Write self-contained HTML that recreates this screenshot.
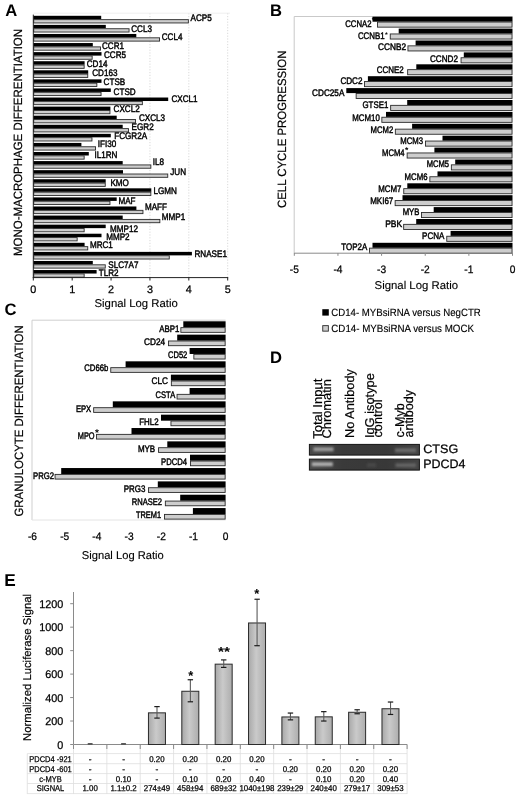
<!DOCTYPE html>
<html><head><meta charset="utf-8"><style>
html,body{margin:0;padding:0;background:#fff;}
svg{display:block;will-change:transform;}
text{font-family:"Liberation Sans",sans-serif;text-rendering:geometricPrecision;}
</style></head><body>
<svg width="520" height="795" viewBox="0 0 520 795" font-family="Liberation Sans, sans-serif">
<rect x="0" y="0" width="520" height="795" fill="#fff"/>
<line x1="149.94" y1="13.2" x2="149.94" y2="277" stroke="#cfcfcf" stroke-width="0.8" stroke-dasharray="1.2,1.6"/>
<line x1="188.82" y1="13.2" x2="188.82" y2="277" stroke="#cfcfcf" stroke-width="0.8" stroke-dasharray="1.2,1.6"/>
<line x1="227.7" y1="13.2" x2="227.7" y2="277" stroke="#cfcfcf" stroke-width="0.8" stroke-dasharray="1.2,1.6"/>
<rect x="33.3" y="15.8" width="67.9" height="3.5" fill="#000"/>
<rect x="33.75" y="19.65" width="154.6" height="3.3" fill="#cdcdcd" stroke="#2a2a2a" stroke-width="0.9"/>
<text x="190.5" y="20.91" font-size="9.5" textLength="21.16" lengthAdjust="spacingAndGlyphs" stroke="#000" stroke-width="0.45">ACP5</text>
<rect x="33.3" y="24.88" width="72.5" height="3.5" fill="#000"/>
<rect x="33.75" y="28.73" width="95.3" height="3.3" fill="#cdcdcd" stroke="#2a2a2a" stroke-width="0.9"/>
<text x="131.25" y="31.61" font-size="9.5" textLength="20.71" lengthAdjust="spacingAndGlyphs" stroke="#000" stroke-width="0.45">CCL3</text>
<rect x="33.3" y="33.96" width="103" height="3.5" fill="#000"/>
<rect x="33.75" y="37.81" width="125.8" height="3.3" fill="#cdcdcd" stroke="#2a2a2a" stroke-width="0.9"/>
<text x="161.75" y="40.41" font-size="9.5" textLength="20.71" lengthAdjust="spacingAndGlyphs" stroke="#000" stroke-width="0.45">CCL4</text>
<rect x="33.3" y="43.04" width="59.5" height="3.5" fill="#000"/>
<rect x="33.75" y="46.89" width="66.7" height="3.3" fill="#cdcdcd" stroke="#2a2a2a" stroke-width="0.9"/>
<text x="102" y="49.31" font-size="9.5" textLength="22.05" lengthAdjust="spacingAndGlyphs" stroke="#000" stroke-width="0.45">CCR1</text>
<rect x="33.3" y="52.12" width="68.2" height="3.5" fill="#000"/>
<rect x="33.75" y="55.97" width="58.4" height="3.3" fill="#cdcdcd" stroke="#2a2a2a" stroke-width="0.9"/>
<text x="104" y="58.31" font-size="9.5" textLength="22.05" lengthAdjust="spacingAndGlyphs" stroke="#000" stroke-width="0.45">CCR5</text>
<rect x="33.3" y="61.2" width="51.3" height="3.5" fill="#000"/>
<rect x="33.75" y="65.05" width="50.4" height="3.3" fill="#cdcdcd" stroke="#2a2a2a" stroke-width="0.9"/>
<text x="86.7" y="67.31" font-size="9.5" textLength="20.71" lengthAdjust="spacingAndGlyphs" stroke="#000" stroke-width="0.45">CD14</text>
<rect x="33.3" y="70.28" width="54.9" height="3.5" fill="#000"/>
<rect x="33.75" y="74.13" width="54" height="3.3" fill="#cdcdcd" stroke="#2a2a2a" stroke-width="0.9"/>
<text x="92.2" y="76.31" font-size="9.5" textLength="25.21" lengthAdjust="spacingAndGlyphs" stroke="#000" stroke-width="0.45">CD163</text>
<rect x="33.3" y="79.36" width="68.2" height="3.5" fill="#000"/>
<rect x="33.75" y="83.21" width="63.1" height="3.3" fill="#cdcdcd" stroke="#2a2a2a" stroke-width="0.9"/>
<text x="103.6" y="85.31" font-size="9.5" textLength="21.6" lengthAdjust="spacingAndGlyphs" stroke="#000" stroke-width="0.45">CTSB</text>
<rect x="33.3" y="88.44" width="77.5" height="3.5" fill="#000"/>
<rect x="33.75" y="92.29" width="67.3" height="3.3" fill="#cdcdcd" stroke="#2a2a2a" stroke-width="0.9"/>
<text x="113.6" y="94.51" font-size="9.5" textLength="22.05" lengthAdjust="spacingAndGlyphs" stroke="#000" stroke-width="0.45">CTSD</text>
<rect x="33.3" y="97.52" width="134.9" height="3.5" fill="#000"/>
<rect x="33.75" y="101.37" width="108.6" height="3.3" fill="#cdcdcd" stroke="#2a2a2a" stroke-width="0.9"/>
<text x="171.4" y="102.41" font-size="9.5" textLength="26.11" lengthAdjust="spacingAndGlyphs" stroke="#000" stroke-width="0.45">CXCL1</text>
<rect x="33.3" y="106.6" width="77.1" height="3.5" fill="#000"/>
<rect x="33.75" y="110.45" width="76.2" height="3.3" fill="#cdcdcd" stroke="#2a2a2a" stroke-width="0.9"/>
<text x="113.6" y="112.21" font-size="9.5" textLength="26.11" lengthAdjust="spacingAndGlyphs" stroke="#000" stroke-width="0.45">CXCL2</text>
<rect x="33.3" y="115.68" width="83.4" height="3.5" fill="#000"/>
<rect x="33.75" y="119.53" width="101.7" height="3.3" fill="#cdcdcd" stroke="#2a2a2a" stroke-width="0.9"/>
<text x="139" y="120.81" font-size="9.5" textLength="26.11" lengthAdjust="spacingAndGlyphs" stroke="#000" stroke-width="0.45">CXCL3</text>
<rect x="33.3" y="124.76" width="89.4" height="3.5" fill="#000"/>
<rect x="33.75" y="128.61" width="94.7" height="3.3" fill="#cdcdcd" stroke="#2a2a2a" stroke-width="0.9"/>
<text x="131.6" y="130.31" font-size="9.5" textLength="22.06" lengthAdjust="spacingAndGlyphs" stroke="#000" stroke-width="0.45">EGR2</text>
<rect x="33.3" y="133.84" width="77.5" height="3.5" fill="#000"/>
<rect x="33.75" y="137.69" width="58.2" height="3.3" fill="#cdcdcd" stroke="#2a2a2a" stroke-width="0.9"/>
<text x="114.2" y="139.41" font-size="9.5" textLength="32.85" lengthAdjust="spacingAndGlyphs" stroke="#000" stroke-width="0.45">FCGR2A</text>
<rect x="33.3" y="142.92" width="48.1" height="3.5" fill="#000"/>
<rect x="33.75" y="146.77" width="61.8" height="3.3" fill="#cdcdcd" stroke="#2a2a2a" stroke-width="0.9"/>
<text x="97.7" y="147.11" font-size="9.5" textLength="18.46" lengthAdjust="spacingAndGlyphs" stroke="#000" stroke-width="0.45">IFI30</text>
<rect x="33.3" y="152" width="55.5" height="3.5" fill="#000"/>
<rect x="33.75" y="155.85" width="50.4" height="3.3" fill="#cdcdcd" stroke="#2a2a2a" stroke-width="0.9"/>
<text x="94.5" y="158.31" font-size="9.5" textLength="22.96" lengthAdjust="spacingAndGlyphs" stroke="#000" stroke-width="0.45">IL1RN</text>
<rect x="33.3" y="161.08" width="89.4" height="3.5" fill="#000"/>
<rect x="33.75" y="164.93" width="117.1" height="3.3" fill="#cdcdcd" stroke="#2a2a2a" stroke-width="0.9"/>
<text x="152.8" y="165.21" font-size="9.5" textLength="11.26" lengthAdjust="spacingAndGlyphs" stroke="#000" stroke-width="0.45">IL8</text>
<rect x="33.3" y="170.16" width="89.7" height="3.5" fill="#000"/>
<rect x="33.75" y="174.01" width="134" height="3.3" fill="#cdcdcd" stroke="#2a2a2a" stroke-width="0.9"/>
<text x="170.3" y="175.21" font-size="9.5" textLength="15.75" lengthAdjust="spacingAndGlyphs" stroke="#000" stroke-width="0.45">JUN</text>
<rect x="33.3" y="179.24" width="72.4" height="3.5" fill="#000"/>
<rect x="33.75" y="183.09" width="71.5" height="3.3" fill="#cdcdcd" stroke="#2a2a2a" stroke-width="0.9"/>
<text x="110.4" y="186.01" font-size="9.5" textLength="18.45" lengthAdjust="spacingAndGlyphs" stroke="#000" stroke-width="0.45">KMO</text>
<rect x="33.3" y="188.32" width="118" height="3.5" fill="#000"/>
<rect x="33.75" y="192.17" width="117.1" height="3.3" fill="#cdcdcd" stroke="#2a2a2a" stroke-width="0.9"/>
<text x="153.4" y="194.01" font-size="9.5" textLength="23.4" lengthAdjust="spacingAndGlyphs" stroke="#000" stroke-width="0.45">LGMN</text>
<rect x="33.3" y="197.4" width="83.4" height="3.5" fill="#000"/>
<rect x="33.75" y="201.25" width="76.2" height="3.3" fill="#cdcdcd" stroke="#2a2a2a" stroke-width="0.9"/>
<text x="118.4" y="204.41" font-size="9.5" textLength="17.1" lengthAdjust="spacingAndGlyphs" stroke="#000" stroke-width="0.45">MAF</text>
<rect x="33.3" y="206.48" width="103.1" height="3.5" fill="#000"/>
<rect x="33.75" y="210.33" width="109.2" height="3.3" fill="#cdcdcd" stroke="#2a2a2a" stroke-width="0.9"/>
<text x="144.9" y="210.21" font-size="9.5" textLength="22.04" lengthAdjust="spacingAndGlyphs" stroke="#000" stroke-width="0.45">MAFF</text>
<rect x="33.3" y="215.56" width="89.4" height="3.5" fill="#000"/>
<rect x="33.75" y="219.41" width="126.1" height="3.3" fill="#cdcdcd" stroke="#2a2a2a" stroke-width="0.9"/>
<text x="161.8" y="220.21" font-size="9.5" textLength="23.4" lengthAdjust="spacingAndGlyphs" stroke="#000" stroke-width="0.45">MMP1</text>
<rect x="33.3" y="224.64" width="72.4" height="3.5" fill="#000"/>
<rect x="33.75" y="228.49" width="50.4" height="3.3" fill="#cdcdcd" stroke="#2a2a2a" stroke-width="0.9"/>
<text x="110" y="231.51" font-size="9.5" textLength="27.91" lengthAdjust="spacingAndGlyphs" stroke="#000" stroke-width="0.45">MMP12</text>
<rect x="33.3" y="233.72" width="68.2" height="3.5" fill="#000"/>
<rect x="33.75" y="237.57" width="43.4" height="3.3" fill="#cdcdcd" stroke="#2a2a2a" stroke-width="0.9"/>
<text x="106.2" y="239.51" font-size="9.5" textLength="23.4" lengthAdjust="spacingAndGlyphs" stroke="#000" stroke-width="0.45">MMP2</text>
<rect x="33.3" y="242.8" width="51.3" height="3.5" fill="#000"/>
<rect x="33.75" y="246.65" width="54" height="3.3" fill="#cdcdcd" stroke="#2a2a2a" stroke-width="0.9"/>
<text x="89.9" y="248.01" font-size="9.5" textLength="22.95" lengthAdjust="spacingAndGlyphs" stroke="#000" stroke-width="0.45">MRC1</text>
<rect x="33.3" y="251.88" width="158.6" height="3.5" fill="#000"/>
<rect x="33.75" y="255.73" width="135.5" height="3.3" fill="#cdcdcd" stroke="#2a2a2a" stroke-width="0.9"/>
<text x="194.5" y="256.61" font-size="9.5" textLength="32.41" lengthAdjust="spacingAndGlyphs" stroke="#000" stroke-width="0.45">RNASE1</text>
<rect x="33.3" y="260.96" width="59.5" height="3.5" fill="#000"/>
<rect x="33.75" y="264.81" width="71.5" height="3.3" fill="#cdcdcd" stroke="#2a2a2a" stroke-width="0.9"/>
<text x="108.3" y="268.01" font-size="9.5" textLength="30.17" lengthAdjust="spacingAndGlyphs" stroke="#000" stroke-width="0.45">SLC7A7</text>
<rect x="33.3" y="270.04" width="63.3" height="3.5" fill="#000"/>
<rect x="33.75" y="273.89" width="50.4" height="3.3" fill="#cdcdcd" stroke="#2a2a2a" stroke-width="0.9"/>
<text x="98.8" y="275.81" font-size="9.5" textLength="19.81" lengthAdjust="spacingAndGlyphs" stroke="#000" stroke-width="0.45">TLR2</text>
<line x1="33.3" y1="14.6" x2="33.3" y2="278.1" stroke="#222" stroke-width="1"/>
<line x1="33.3" y1="13.2" x2="230" y2="13.2" stroke="#ececec" stroke-width="0.8"/>
<line x1="32.8" y1="277.6" x2="228.2" y2="277.6" stroke="#222" stroke-width="1"/>
<line x1="33.3" y1="277.5" x2="33.3" y2="280.5" stroke="#222" stroke-width="1"/>
<text x="33.3" y="292.5" font-size="10.8" text-anchor="middle" stroke="#000" stroke-width="0.25">0</text>
<line x1="72.18" y1="277.5" x2="72.18" y2="280.5" stroke="#222" stroke-width="1"/>
<text x="72.18" y="292.5" font-size="10.8" text-anchor="middle" stroke="#000" stroke-width="0.25">1</text>
<line x1="111.06" y1="277.5" x2="111.06" y2="280.5" stroke="#222" stroke-width="1"/>
<text x="111.06" y="292.5" font-size="10.8" text-anchor="middle" stroke="#000" stroke-width="0.25">2</text>
<line x1="149.94" y1="277.5" x2="149.94" y2="280.5" stroke="#222" stroke-width="1"/>
<text x="149.94" y="292.5" font-size="10.8" text-anchor="middle" stroke="#000" stroke-width="0.25">3</text>
<line x1="188.82" y1="277.5" x2="188.82" y2="280.5" stroke="#222" stroke-width="1"/>
<text x="188.82" y="292.5" font-size="10.8" text-anchor="middle" stroke="#000" stroke-width="0.25">4</text>
<line x1="227.7" y1="277.5" x2="227.7" y2="280.5" stroke="#222" stroke-width="1"/>
<text x="227.7" y="292.5" font-size="10.8" text-anchor="middle" stroke="#000" stroke-width="0.25">5</text>
<text x="94.5" y="306.7" font-size="11.3" textLength="83.3" lengthAdjust="spacingAndGlyphs" stroke="#000" stroke-width="0.12">Signal Log Ratio</text>
<text transform="translate(22.2,256) rotate(-90)" font-size="12" textLength="227" lengthAdjust="spacingAndGlyphs" stroke="#000" stroke-width="0.2">MONO-MACROPHAGE DIFFERENTIATION</text>
<text x="5.2" y="16.3" font-size="16.6" font-weight="bold">A</text>
<line x1="294.2" y1="16.5" x2="512.5" y2="16.5" stroke="#c9c9c9" stroke-width="1"/>
<line x1="294.2" y1="16.5" x2="294.2" y2="253.2" stroke="#c9c9c9" stroke-width="1"/>
<rect x="372.5" y="16.7" width="140" height="5" fill="#000"/>
<rect x="377.55" y="22.05" width="134.5" height="5.1" fill="#cdcdcd" stroke="#2a2a2a" stroke-width="0.9"/>
<text x="371.5" y="27.06" font-size="9.5" text-anchor="end" textLength="26.3" lengthAdjust="spacingAndGlyphs" stroke="#000" stroke-width="0.45">CCNA2</text>
<text x="371.67" y="22.27" font-size="7" font-weight="bold">*</text>
<rect x="398.7" y="28.6" width="113.8" height="5" fill="#000"/>
<rect x="390.25" y="33.95" width="121.8" height="5.1" fill="#cdcdcd" stroke="#2a2a2a" stroke-width="0.9"/>
<text x="384.6" y="38.56" font-size="9.5" text-anchor="end" textLength="26.7" lengthAdjust="spacingAndGlyphs" stroke="#000" stroke-width="0.45">CCNB1</text>
<text x="384.97" y="36.77" font-size="7" font-weight="bold">*</text>
<rect x="415.6" y="40.5" width="96.9" height="5" fill="#000"/>
<rect x="407.95" y="45.85" width="104.1" height="5.1" fill="#cdcdcd" stroke="#2a2a2a" stroke-width="0.9"/>
<text x="406" y="49.86" font-size="9.5" text-anchor="end" textLength="28" lengthAdjust="spacingAndGlyphs" stroke="#000" stroke-width="0.45">CCNB2</text>
<rect x="463.8" y="52.4" width="48.7" height="5" fill="#000"/>
<rect x="461.05" y="57.75" width="51" height="5.1" fill="#cdcdcd" stroke="#2a2a2a" stroke-width="0.9"/>
<text x="457.9" y="61.96" font-size="9.5" text-anchor="end" textLength="27.9" lengthAdjust="spacingAndGlyphs" stroke="#000" stroke-width="0.45">CCND2</text>
<rect x="416.3" y="64.3" width="96.2" height="5" fill="#000"/>
<rect x="407.65" y="69.65" width="104.4" height="5.1" fill="#cdcdcd" stroke="#2a2a2a" stroke-width="0.9"/>
<text x="403.7" y="73.16" font-size="9.5" text-anchor="end" textLength="27" lengthAdjust="spacingAndGlyphs" stroke="#000" stroke-width="0.45">CCNE2</text>
<rect x="367.9" y="76.2" width="144.6" height="5" fill="#000"/>
<rect x="364.55" y="81.55" width="147.5" height="5.1" fill="#cdcdcd" stroke="#2a2a2a" stroke-width="0.9"/>
<text x="362.5" y="83.86" font-size="9.5" text-anchor="end" textLength="22.1" lengthAdjust="spacingAndGlyphs" stroke="#000" stroke-width="0.45">CDC2</text>
<rect x="346.3" y="88.1" width="166.2" height="5" fill="#000"/>
<rect x="356.15" y="93.45" width="155.9" height="5.1" fill="#cdcdcd" stroke="#2a2a2a" stroke-width="0.9"/>
<text x="344.4" y="95.76" font-size="9.5" text-anchor="end" textLength="32.3" lengthAdjust="spacingAndGlyphs" stroke="#000" stroke-width="0.45">CDC25A</text>
<rect x="407.2" y="100" width="105.3" height="5" fill="#000"/>
<rect x="390.65" y="105.35" width="121.4" height="5.1" fill="#cdcdcd" stroke="#2a2a2a" stroke-width="0.9"/>
<text x="388.3" y="108.16" font-size="9.5" text-anchor="end" textLength="25.8" lengthAdjust="spacingAndGlyphs" stroke="#000" stroke-width="0.45">GTSE1</text>
<rect x="386" y="111.9" width="126.5" height="5" fill="#000"/>
<rect x="381.85" y="117.25" width="130.2" height="5.1" fill="#cdcdcd" stroke="#2a2a2a" stroke-width="0.9"/>
<text x="379.8" y="120.56" font-size="9.5" text-anchor="end" textLength="27.5" lengthAdjust="spacingAndGlyphs" stroke="#000" stroke-width="0.45">MCM10</text>
<rect x="412.1" y="123.8" width="100.4" height="5" fill="#000"/>
<rect x="395.35" y="129.15" width="116.7" height="5.1" fill="#cdcdcd" stroke="#2a2a2a" stroke-width="0.9"/>
<text x="393.2" y="132.56" font-size="9.5" text-anchor="end" textLength="22.6" lengthAdjust="spacingAndGlyphs" stroke="#000" stroke-width="0.45">MCM2</text>
<rect x="442.5" y="135.7" width="70" height="5" fill="#000"/>
<rect x="425.45" y="141.05" width="86.6" height="5.1" fill="#cdcdcd" stroke="#2a2a2a" stroke-width="0.9"/>
<text x="423.1" y="143.86" font-size="9.5" text-anchor="end" textLength="22.9" lengthAdjust="spacingAndGlyphs" stroke="#000" stroke-width="0.45">MCM3</text>
<rect x="434.4" y="147.6" width="78.1" height="5" fill="#000"/>
<rect x="407.15" y="152.95" width="104.9" height="5.1" fill="#cdcdcd" stroke="#2a2a2a" stroke-width="0.9"/>
<text x="404.6" y="155.66" font-size="9.5" text-anchor="end" textLength="22.5" lengthAdjust="spacingAndGlyphs" stroke="#000" stroke-width="0.45">MCM4</text>
<text x="405.08" y="153.03" font-size="8.5" font-weight="bold">*</text>
<rect x="455.2" y="159.5" width="57.3" height="5" fill="#000"/>
<rect x="451.35" y="164.85" width="60.7" height="5.1" fill="#cdcdcd" stroke="#2a2a2a" stroke-width="0.9"/>
<text x="449" y="167.26" font-size="9.5" text-anchor="end" textLength="22.3" lengthAdjust="spacingAndGlyphs" stroke="#000" stroke-width="0.45">MCM5</text>
<rect x="437.5" y="171.4" width="75" height="5" fill="#000"/>
<rect x="429.85" y="176.75" width="82.2" height="5.1" fill="#cdcdcd" stroke="#2a2a2a" stroke-width="0.9"/>
<text x="427.5" y="179.56" font-size="9.5" text-anchor="end" textLength="22.9" lengthAdjust="spacingAndGlyphs" stroke="#000" stroke-width="0.45">MCM6</text>
<rect x="407.3" y="183.3" width="105.2" height="5" fill="#000"/>
<rect x="403.75" y="188.65" width="108.3" height="5.1" fill="#cdcdcd" stroke="#2a2a2a" stroke-width="0.9"/>
<text x="401.4" y="191.56" font-size="9.5" text-anchor="end" textLength="23.2" lengthAdjust="spacingAndGlyphs" stroke="#000" stroke-width="0.45">MCM7</text>
<rect x="402.5" y="195.2" width="110" height="5" fill="#000"/>
<rect x="395.15" y="200.55" width="116.9" height="5.1" fill="#cdcdcd" stroke="#2a2a2a" stroke-width="0.9"/>
<text x="393.3" y="203.56" font-size="9.5" text-anchor="end" textLength="23.1" lengthAdjust="spacingAndGlyphs" stroke="#000" stroke-width="0.45">MKI67</text>
<rect x="433.7" y="207.1" width="78.8" height="5" fill="#000"/>
<rect x="421.45" y="212.45" width="90.6" height="5.1" fill="#cdcdcd" stroke="#2a2a2a" stroke-width="0.9"/>
<text x="419.4" y="215.46" font-size="9.5" text-anchor="end" textLength="16.7" lengthAdjust="spacingAndGlyphs" stroke="#000" stroke-width="0.45">MYB</text>
<rect x="416.2" y="219" width="96.3" height="5" fill="#000"/>
<rect x="403.65" y="224.35" width="108.4" height="5.1" fill="#cdcdcd" stroke="#2a2a2a" stroke-width="0.9"/>
<text x="402.2" y="227.06" font-size="9.5" text-anchor="end" textLength="17" lengthAdjust="spacingAndGlyphs" stroke="#000" stroke-width="0.45">PBK</text>
<rect x="450.6" y="230.9" width="61.9" height="5" fill="#000"/>
<rect x="446.75" y="236.25" width="65.3" height="5.1" fill="#cdcdcd" stroke="#2a2a2a" stroke-width="0.9"/>
<text x="444.4" y="239.36" font-size="9.5" text-anchor="end" textLength="22.3" lengthAdjust="spacingAndGlyphs" stroke="#000" stroke-width="0.45">PCNA</text>
<rect x="372.5" y="242.8" width="140" height="5" fill="#000"/>
<rect x="369.45" y="248.15" width="142.6" height="5.1" fill="#cdcdcd" stroke="#2a2a2a" stroke-width="0.9"/>
<text x="367.2" y="249.96" font-size="9.5" text-anchor="end" textLength="25.9" lengthAdjust="spacingAndGlyphs" stroke="#000" stroke-width="0.45">TOP2A</text>
<line x1="294.2" y1="253.2" x2="512.5" y2="253.2" stroke="#8a8a8a" stroke-width="1"/>
<line x1="294.3" y1="253" x2="294.3" y2="255.8" stroke="#8a8a8a" stroke-width="1"/>
<text x="294.3" y="273" font-size="10.8" text-anchor="middle" textLength="9.07" lengthAdjust="spacingAndGlyphs" stroke="#000" stroke-width="0.25">-5</text>
<line x1="337.94" y1="253" x2="337.94" y2="255.8" stroke="#8a8a8a" stroke-width="1"/>
<text x="337.94" y="273" font-size="10.8" text-anchor="middle" textLength="9.07" lengthAdjust="spacingAndGlyphs" stroke="#000" stroke-width="0.25">-4</text>
<line x1="381.58" y1="253" x2="381.58" y2="255.8" stroke="#8a8a8a" stroke-width="1"/>
<text x="381.58" y="273" font-size="10.8" text-anchor="middle" textLength="9.07" lengthAdjust="spacingAndGlyphs" stroke="#000" stroke-width="0.25">-3</text>
<line x1="425.22" y1="253" x2="425.22" y2="255.8" stroke="#8a8a8a" stroke-width="1"/>
<text x="425.22" y="273" font-size="10.8" text-anchor="middle" textLength="9.07" lengthAdjust="spacingAndGlyphs" stroke="#000" stroke-width="0.25">-2</text>
<line x1="468.86" y1="253" x2="468.86" y2="255.8" stroke="#8a8a8a" stroke-width="1"/>
<text x="468.86" y="273" font-size="10.8" text-anchor="middle" textLength="9.07" lengthAdjust="spacingAndGlyphs" stroke="#000" stroke-width="0.25">-1</text>
<line x1="512.5" y1="253" x2="512.5" y2="255.8" stroke="#8a8a8a" stroke-width="1"/>
<text x="512.5" y="273" font-size="10.8" text-anchor="middle" textLength="5.67" lengthAdjust="spacingAndGlyphs" stroke="#000" stroke-width="0.25">0</text>
<text x="374.6" y="288.5" font-size="11.3" textLength="83.4" lengthAdjust="spacingAndGlyphs" stroke="#000" stroke-width="0.12">Signal Log Ratio</text>
<text transform="translate(286.1,208) rotate(-90)" font-size="12" textLength="157.4" lengthAdjust="spacingAndGlyphs" stroke="#000" stroke-width="0.2">CELL CYCLE PROGRESSION</text>
<text x="270.1" y="16.4" font-size="16.6" font-weight="bold">B</text>
<rect x="322.3" y="309.2" width="6.5" height="6.4" fill="#000"/>
<rect x="322.75" y="325.65" width="5.6" height="5.5" fill="#cdcdcd" stroke="#2a2a2a" stroke-width="0.9"/>
<text x="331.3" y="316.2" font-size="10.5" textLength="149.5" lengthAdjust="spacingAndGlyphs" stroke="#000" stroke-width="0.15">CD14- MYBsiRNA versus NegCTR</text>
<text x="331.3" y="332" font-size="10.5" textLength="142.7" lengthAdjust="spacingAndGlyphs" stroke="#000" stroke-width="0.15">CD14- MYBsiRNA versus MOCK</text>
<line x1="32" y1="320.2" x2="225.6" y2="320.2" stroke="#cfcfcf" stroke-width="1"/>
<line x1="32" y1="320.2" x2="32" y2="520" stroke="#cfcfcf" stroke-width="1"/>
<line x1="32" y1="520" x2="225.6" y2="520" stroke="#e4e4e4" stroke-width="1"/>
<rect x="183.3" y="321.3" width="42.3" height="6" fill="#000"/>
<rect x="180.85" y="327.65" width="44.3" height="4.7" fill="#cdcdcd" stroke="#2a2a2a" stroke-width="0.9"/>
<text x="179.5" y="331.66" font-size="9.5" text-anchor="end" textLength="20.2" lengthAdjust="spacingAndGlyphs" stroke="#000" stroke-width="0.45">ABP1</text>
<rect x="177.2" y="334.64" width="48.4" height="6" fill="#000"/>
<rect x="168.45" y="340.99" width="56.7" height="4.7" fill="#cdcdcd" stroke="#2a2a2a" stroke-width="0.9"/>
<text x="165.1" y="345.06" font-size="9.5" text-anchor="end" textLength="21.1" lengthAdjust="spacingAndGlyphs" stroke="#000" stroke-width="0.45">CD24</text>
<rect x="189.6" y="347.98" width="36" height="6" fill="#000"/>
<rect x="193.85" y="354.33" width="31.3" height="4.7" fill="#cdcdcd" stroke="#2a2a2a" stroke-width="0.9"/>
<text x="187.3" y="358.26" font-size="9.5" text-anchor="end" textLength="19.3" lengthAdjust="spacingAndGlyphs" stroke="#000" stroke-width="0.45">CD52</text>
<rect x="125.6" y="361.32" width="100" height="6" fill="#000"/>
<rect x="110.75" y="367.67" width="114.4" height="4.7" fill="#cdcdcd" stroke="#2a2a2a" stroke-width="0.9"/>
<text x="108.3" y="370.76" font-size="9.5" text-anchor="end" textLength="24" lengthAdjust="spacingAndGlyphs" stroke="#000" stroke-width="0.45">CD66b</text>
<rect x="170.9" y="374.66" width="54.7" height="6" fill="#000"/>
<rect x="171.35" y="381.01" width="53.8" height="4.7" fill="#cdcdcd" stroke="#2a2a2a" stroke-width="0.9"/>
<text x="168" y="384.26" font-size="9.5" text-anchor="end" textLength="16.5" lengthAdjust="spacingAndGlyphs" stroke="#000" stroke-width="0.45">CLC</text>
<rect x="189.6" y="388" width="36" height="6" fill="#000"/>
<rect x="177.05" y="394.35" width="48.1" height="4.7" fill="#cdcdcd" stroke="#2a2a2a" stroke-width="0.9"/>
<text x="175.2" y="398.06" font-size="9.5" text-anchor="end" textLength="19.6" lengthAdjust="spacingAndGlyphs" stroke="#000" stroke-width="0.45">CSTA</text>
<rect x="112.8" y="401.34" width="112.8" height="6" fill="#000"/>
<rect x="93.65" y="407.69" width="131.5" height="4.7" fill="#cdcdcd" stroke="#2a2a2a" stroke-width="0.9"/>
<text x="91.2" y="411.76" font-size="9.5" text-anchor="end" textLength="15.3" lengthAdjust="spacingAndGlyphs" stroke="#000" stroke-width="0.45">EPX</text>
<rect x="161" y="414.68" width="64.6" height="6" fill="#000"/>
<rect x="170.95" y="421.03" width="54.2" height="4.7" fill="#cdcdcd" stroke="#2a2a2a" stroke-width="0.9"/>
<text x="158.6" y="425.46" font-size="9.5" text-anchor="end" textLength="19.3" lengthAdjust="spacingAndGlyphs" stroke="#000" stroke-width="0.45">FHL2</text>
<rect x="131.5" y="428.02" width="94.1" height="6" fill="#000"/>
<rect x="96.45" y="434.37" width="128.7" height="4.7" fill="#cdcdcd" stroke="#2a2a2a" stroke-width="0.9"/>
<text x="94.6" y="438.66" font-size="9.5" text-anchor="end" textLength="16.8" lengthAdjust="spacingAndGlyphs" stroke="#000" stroke-width="0.45">MPO</text>
<text x="94.9" y="435.5" font-size="10" font-weight="bold">*</text>
<rect x="167.3" y="441.36" width="58.3" height="6" fill="#000"/>
<rect x="158.55" y="447.71" width="66.6" height="4.7" fill="#cdcdcd" stroke="#2a2a2a" stroke-width="0.9"/>
<text x="155.2" y="451.66" font-size="9.5" text-anchor="end" textLength="17.3" lengthAdjust="spacingAndGlyphs" stroke="#000" stroke-width="0.45">MYB</text>
<rect x="190" y="454.7" width="35.6" height="6" fill="#000"/>
<rect x="190.45" y="461.05" width="34.7" height="4.7" fill="#cdcdcd" stroke="#2a2a2a" stroke-width="0.9"/>
<text x="187.1" y="464.96" font-size="9.5" text-anchor="end" textLength="26" lengthAdjust="spacingAndGlyphs" stroke="#000" stroke-width="0.45">PDCD4</text>
<rect x="61.2" y="468.04" width="164.4" height="6" fill="#000"/>
<rect x="55.05" y="474.39" width="170.1" height="4.7" fill="#cdcdcd" stroke="#2a2a2a" stroke-width="0.9"/>
<text x="54" y="478.56" font-size="9.5" text-anchor="end" textLength="21" lengthAdjust="spacingAndGlyphs" stroke="#000" stroke-width="0.45">PRG2</text>
<rect x="157.8" y="481.38" width="67.8" height="6" fill="#000"/>
<rect x="148.45" y="487.73" width="76.7" height="4.7" fill="#cdcdcd" stroke="#2a2a2a" stroke-width="0.9"/>
<text x="145.5" y="492.26" font-size="9.5" text-anchor="end" textLength="21.7" lengthAdjust="spacingAndGlyphs" stroke="#000" stroke-width="0.45">PRG3</text>
<rect x="180.2" y="494.72" width="45.4" height="6" fill="#000"/>
<rect x="165.35" y="501.07" width="59.8" height="4.7" fill="#cdcdcd" stroke="#2a2a2a" stroke-width="0.9"/>
<text x="162" y="505.16" font-size="9.5" text-anchor="end" textLength="30.3" lengthAdjust="spacingAndGlyphs" stroke="#000" stroke-width="0.45">RNASE2</text>
<rect x="192.9" y="508.06" width="32.7" height="6" fill="#000"/>
<rect x="164.45" y="514.41" width="60.7" height="4.7" fill="#cdcdcd" stroke="#2a2a2a" stroke-width="0.9"/>
<text x="161.1" y="518.46" font-size="9.5" text-anchor="end" textLength="25.1" lengthAdjust="spacingAndGlyphs" stroke="#000" stroke-width="0.45">TREM1</text>
<text x="32.5" y="539.8" font-size="10.8" text-anchor="middle" textLength="9.07" lengthAdjust="spacingAndGlyphs" stroke="#000" stroke-width="0.25">-6</text>
<text x="64.7" y="539.8" font-size="10.8" text-anchor="middle" textLength="9.07" lengthAdjust="spacingAndGlyphs" stroke="#000" stroke-width="0.25">-5</text>
<text x="96.9" y="539.8" font-size="10.8" text-anchor="middle" textLength="9.07" lengthAdjust="spacingAndGlyphs" stroke="#000" stroke-width="0.25">-4</text>
<text x="129.1" y="539.8" font-size="10.8" text-anchor="middle" textLength="9.07" lengthAdjust="spacingAndGlyphs" stroke="#000" stroke-width="0.25">-3</text>
<text x="161.3" y="539.8" font-size="10.8" text-anchor="middle" textLength="9.07" lengthAdjust="spacingAndGlyphs" stroke="#000" stroke-width="0.25">-2</text>
<text x="193.5" y="539.8" font-size="10.8" text-anchor="middle" textLength="9.07" lengthAdjust="spacingAndGlyphs" stroke="#000" stroke-width="0.25">-1</text>
<text x="225.7" y="539.8" font-size="10.8" text-anchor="middle" textLength="5.67" lengthAdjust="spacingAndGlyphs" stroke="#000" stroke-width="0.25">0</text>
<text x="81.8" y="558.5" font-size="11.3" textLength="82" lengthAdjust="spacingAndGlyphs" stroke="#000" stroke-width="0.12">Signal Log Ratio</text>
<text transform="translate(23.4,516.5) rotate(-90)" font-size="12" textLength="191.2" lengthAdjust="spacingAndGlyphs" stroke="#000" stroke-width="0.2">GRANULOCYTE DIFFERENTIATION</text>
<text x="4.4" y="315.3" font-size="16.6" font-weight="bold">C</text>
<text x="269.9" y="363.3" font-size="16.6" font-weight="bold">D</text>
<text transform="translate(321.6,438.8) rotate(-90)" font-size="12.8" textLength="60.1" lengthAdjust="spacingAndGlyphs" stroke="#000" stroke-width="0.2">Total Input</text>
<text transform="translate(331.1,438.5) rotate(-90)" font-size="12.8" textLength="59.3" lengthAdjust="spacingAndGlyphs" stroke="#000" stroke-width="0.2">Chromatin</text>
<text transform="translate(353.5,438.1) rotate(-90)" font-size="12.8" textLength="69" lengthAdjust="spacingAndGlyphs" stroke="#000" stroke-width="0.2">No Antibody</text>
<text transform="translate(373.8,438.1) rotate(-90)" font-size="12.8" textLength="65" lengthAdjust="spacingAndGlyphs" stroke="#000" stroke-width="0.2">IgG isotype</text>
<text transform="translate(381.9,437.5) rotate(-90)" font-size="12.8" textLength="38.1" lengthAdjust="spacingAndGlyphs" stroke="#000" stroke-width="0.2">control</text>
<text transform="translate(404,437.5) rotate(-90)" font-size="12.8" textLength="34.4" lengthAdjust="spacingAndGlyphs" stroke="#000" stroke-width="0.2">c-Myb</text>
<text transform="translate(412.5,437.5) rotate(-90)" font-size="12.8" textLength="47.5" lengthAdjust="spacingAndGlyphs" stroke="#000" stroke-width="0.2">antibody</text>
<defs><linearGradient id="gelg" x1="0" x2="1" y1="0" y2="0"><stop offset="0" stop-color="#4a4a4a"/><stop offset="0.3" stop-color="#3a3a3a"/><stop offset="0.7" stop-color="#383838"/><stop offset="1" stop-color="#444"/></linearGradient></defs>
<defs><filter id="bl" x="-50%" y="-100%" width="200%" height="300%"><feGaussianBlur stdDeviation="1.1"/></filter></defs>
<rect x="309.4" y="444.4" width="110" height="10.7" fill="url(#gelg)" stroke="#151515" stroke-width="1"/>
<rect x="309.4" y="459.1" width="110" height="11" fill="url(#gelg)" stroke="#151515" stroke-width="1"/>
<g filter="url(#bl)">
<rect x="313.5" y="447.3" width="20" height="4" fill="#9a9a9a"/>
<rect x="395" y="448.3" width="21" height="4" fill="#6a6a6a"/>
<rect x="311.8" y="462.2" width="21" height="4" fill="#adadad"/>
<rect x="395.5" y="463.3" width="20.5" height="3.8" fill="#646464"/>
<rect x="367" y="463.3" width="9" height="3.5" fill="#4a4a4a"/>
</g>
<text x="423.2" y="453.2" font-size="12.2" textLength="35" lengthAdjust="spacingAndGlyphs" stroke="#000" stroke-width="0.25">CTSG</text>
<text x="423.2" y="468.4" font-size="12.2" textLength="42.3" lengthAdjust="spacingAndGlyphs" stroke="#000" stroke-width="0.25">PDCD4</text>
<text x="4.2" y="586" font-size="17.2" font-weight="bold">E</text>
<line x1="73.5" y1="592" x2="73.5" y2="744.5" stroke="#8a8a8a" stroke-width="1"/>
<line x1="70.2" y1="744.5" x2="73.5" y2="744.5" stroke="#8a8a8a" stroke-width="1"/>
<text x="63.3" y="748.6" font-size="11.2" text-anchor="end" textLength="6.03" lengthAdjust="spacingAndGlyphs" stroke="#000" stroke-width="0.25">0</text>
<line x1="70.2" y1="721.03" x2="73.5" y2="721.03" stroke="#8a8a8a" stroke-width="1"/>
<text x="63.3" y="725.13" font-size="11.2" text-anchor="end" textLength="18.09" lengthAdjust="spacingAndGlyphs" stroke="#000" stroke-width="0.25">200</text>
<line x1="70.2" y1="697.57" x2="73.5" y2="697.57" stroke="#8a8a8a" stroke-width="1"/>
<text x="63.3" y="701.67" font-size="11.2" text-anchor="end" textLength="18.09" lengthAdjust="spacingAndGlyphs" stroke="#000" stroke-width="0.25">400</text>
<line x1="70.2" y1="674.1" x2="73.5" y2="674.1" stroke="#8a8a8a" stroke-width="1"/>
<text x="63.3" y="678.2" font-size="11.2" text-anchor="end" textLength="18.09" lengthAdjust="spacingAndGlyphs" stroke="#000" stroke-width="0.25">600</text>
<line x1="70.2" y1="650.63" x2="73.5" y2="650.63" stroke="#8a8a8a" stroke-width="1"/>
<text x="63.3" y="654.73" font-size="11.2" text-anchor="end" textLength="18.09" lengthAdjust="spacingAndGlyphs" stroke="#000" stroke-width="0.25">800</text>
<line x1="70.2" y1="627.17" x2="73.5" y2="627.17" stroke="#8a8a8a" stroke-width="1"/>
<text x="63.3" y="631.27" font-size="11.2" text-anchor="end" textLength="24.12" lengthAdjust="spacingAndGlyphs" stroke="#000" stroke-width="0.25">1000</text>
<line x1="70.2" y1="603.7" x2="73.5" y2="603.7" stroke="#8a8a8a" stroke-width="1"/>
<text x="63.3" y="607.8" font-size="11.2" text-anchor="end" textLength="24.12" lengthAdjust="spacingAndGlyphs" stroke="#000" stroke-width="0.25">1200</text>
<text transform="translate(31.1,740.9) rotate(-90)" font-size="11.3" textLength="147" lengthAdjust="spacingAndGlyphs" stroke="#000" stroke-width="0.2">Normalized Luciferase Signal</text>
<line x1="27.3" y1="753.6" x2="407" y2="753.6" stroke="#dedede" stroke-width="0.8"/>
<line x1="27.3" y1="763.7" x2="407" y2="763.7" stroke="#dedede" stroke-width="0.8"/>
<line x1="27.3" y1="773.6" x2="407" y2="773.6" stroke="#dedede" stroke-width="0.8"/>
<line x1="27.3" y1="783.5" x2="407" y2="783.5" stroke="#dedede" stroke-width="0.8"/>
<line x1="27.3" y1="793.6" x2="407" y2="793.6" stroke="#dedede" stroke-width="0.8"/>
<line x1="73.5" y1="744.5" x2="73.5" y2="794" stroke="#dedede" stroke-width="0.8"/>
<line x1="106.86" y1="744.5" x2="106.86" y2="794" stroke="#dedede" stroke-width="0.8"/>
<line x1="140.22" y1="744.5" x2="140.22" y2="794" stroke="#dedede" stroke-width="0.8"/>
<line x1="173.58" y1="744.5" x2="173.58" y2="794" stroke="#dedede" stroke-width="0.8"/>
<line x1="206.94" y1="744.5" x2="206.94" y2="794" stroke="#dedede" stroke-width="0.8"/>
<line x1="240.3" y1="744.5" x2="240.3" y2="794" stroke="#dedede" stroke-width="0.8"/>
<line x1="273.66" y1="744.5" x2="273.66" y2="794" stroke="#dedede" stroke-width="0.8"/>
<line x1="307.02" y1="744.5" x2="307.02" y2="794" stroke="#dedede" stroke-width="0.8"/>
<line x1="340.38" y1="744.5" x2="340.38" y2="794" stroke="#dedede" stroke-width="0.8"/>
<line x1="373.74" y1="744.5" x2="373.74" y2="794" stroke="#dedede" stroke-width="0.8"/>
<line x1="407.1" y1="744.5" x2="407.1" y2="794" stroke="#dedede" stroke-width="0.8"/>
<line x1="27.3" y1="753.6" x2="27.3" y2="794" stroke="#dedede" stroke-width="0.8"/>
<line x1="73.5" y1="744.5" x2="407.1" y2="744.5" stroke="#8a8a8a" stroke-width="1"/>
<line x1="73.5" y1="744.5" x2="73.5" y2="749" stroke="#8a8a8a" stroke-width="1"/>
<line x1="106.86" y1="744.5" x2="106.86" y2="749" stroke="#8a8a8a" stroke-width="1"/>
<line x1="140.22" y1="744.5" x2="140.22" y2="749" stroke="#8a8a8a" stroke-width="1"/>
<line x1="173.58" y1="744.5" x2="173.58" y2="749" stroke="#8a8a8a" stroke-width="1"/>
<line x1="206.94" y1="744.5" x2="206.94" y2="749" stroke="#8a8a8a" stroke-width="1"/>
<line x1="240.3" y1="744.5" x2="240.3" y2="749" stroke="#8a8a8a" stroke-width="1"/>
<line x1="273.66" y1="744.5" x2="273.66" y2="749" stroke="#8a8a8a" stroke-width="1"/>
<line x1="307.02" y1="744.5" x2="307.02" y2="749" stroke="#8a8a8a" stroke-width="1"/>
<line x1="340.38" y1="744.5" x2="340.38" y2="749" stroke="#8a8a8a" stroke-width="1"/>
<line x1="373.74" y1="744.5" x2="373.74" y2="749" stroke="#8a8a8a" stroke-width="1"/>
<line x1="407.1" y1="744.5" x2="407.1" y2="749" stroke="#8a8a8a" stroke-width="1"/>
<defs><linearGradient id="bg" x1="0" x2="1" y1="0" y2="0"><stop offset="0" stop-color="#a8a8a8"/><stop offset="0.45" stop-color="#cacaca"/><stop offset="1" stop-color="#adadad"/></linearGradient></defs>
<rect x="87.58" y="743.1" width="5.2" height="1.9" rx="0.8" fill="#5a5a5a"/>
<rect x="120.94" y="743.1" width="5.2" height="1.9" rx="0.8" fill="#5a5a5a"/>
<rect x="148.45" y="712.85" width="17.0" height="31.65" fill="url(#bg)" stroke="#2a2a2a" stroke-width="1"/>
<line x1="157" y1="706.6" x2="157" y2="718.1" stroke="#5a5a5a" stroke-width="1.1"/>
<line x1="154.3" y1="706.6" x2="159.7" y2="706.6" stroke="#1a1a1a" stroke-width="1.2"/>
<line x1="154.3" y1="718.1" x2="159.7" y2="718.1" stroke="#1a1a1a" stroke-width="1.2"/>
<rect x="181.81" y="691.26" width="17.0" height="53.24" fill="url(#bg)" stroke="#2a2a2a" stroke-width="1"/>
<line x1="190.36" y1="679.73" x2="190.36" y2="701.79" stroke="#5a5a5a" stroke-width="1.1"/>
<line x1="187.66" y1="679.73" x2="193.06" y2="679.73" stroke="#1a1a1a" stroke-width="1.2"/>
<line x1="187.66" y1="701.79" x2="193.06" y2="701.79" stroke="#1a1a1a" stroke-width="1.2"/>
<rect x="215.17" y="664.16" width="17.0" height="80.34" fill="url(#bg)" stroke="#2a2a2a" stroke-width="1"/>
<line x1="223.72" y1="659.9" x2="223.72" y2="667.41" stroke="#5a5a5a" stroke-width="1.1"/>
<line x1="221.02" y1="659.9" x2="226.42" y2="659.9" stroke="#1a1a1a" stroke-width="1.2"/>
<line x1="221.02" y1="667.41" x2="226.42" y2="667.41" stroke="#1a1a1a" stroke-width="1.2"/>
<rect x="248.53" y="622.97" width="17.0" height="121.53" fill="url(#bg)" stroke="#2a2a2a" stroke-width="1"/>
<line x1="257.08" y1="599.24" x2="257.08" y2="645.71" stroke="#5a5a5a" stroke-width="1.1"/>
<line x1="254.38" y1="599.24" x2="259.78" y2="599.24" stroke="#1a1a1a" stroke-width="1.2"/>
<line x1="254.38" y1="645.71" x2="259.78" y2="645.71" stroke="#1a1a1a" stroke-width="1.2"/>
<rect x="281.89" y="716.96" width="17.0" height="27.54" fill="url(#bg)" stroke="#2a2a2a" stroke-width="1"/>
<line x1="290.44" y1="713.05" x2="290.44" y2="719.86" stroke="#5a5a5a" stroke-width="1.1"/>
<line x1="287.74" y1="713.05" x2="293.14" y2="713.05" stroke="#1a1a1a" stroke-width="1.2"/>
<line x1="287.74" y1="719.86" x2="293.14" y2="719.86" stroke="#1a1a1a" stroke-width="1.2"/>
<rect x="315.25" y="716.84" width="17.0" height="27.66" fill="url(#bg)" stroke="#2a2a2a" stroke-width="1"/>
<line x1="323.8" y1="711.65" x2="323.8" y2="721.03" stroke="#5a5a5a" stroke-width="1.1"/>
<line x1="321.1" y1="711.65" x2="326.5" y2="711.65" stroke="#1a1a1a" stroke-width="1.2"/>
<line x1="321.1" y1="721.03" x2="326.5" y2="721.03" stroke="#1a1a1a" stroke-width="1.2"/>
<rect x="348.61" y="712.26" width="17.0" height="32.24" fill="url(#bg)" stroke="#2a2a2a" stroke-width="1"/>
<line x1="357.16" y1="709.77" x2="357.16" y2="713.76" stroke="#5a5a5a" stroke-width="1.1"/>
<line x1="354.46" y1="709.77" x2="359.86" y2="709.77" stroke="#1a1a1a" stroke-width="1.2"/>
<line x1="354.46" y1="713.76" x2="359.86" y2="713.76" stroke="#1a1a1a" stroke-width="1.2"/>
<rect x="381.97" y="708.74" width="17.0" height="35.76" fill="url(#bg)" stroke="#2a2a2a" stroke-width="1"/>
<line x1="390.52" y1="702.03" x2="390.52" y2="714.46" stroke="#5a5a5a" stroke-width="1.1"/>
<line x1="387.82" y1="702.03" x2="393.22" y2="702.03" stroke="#1a1a1a" stroke-width="1.2"/>
<line x1="387.82" y1="714.46" x2="393.22" y2="714.46" stroke="#1a1a1a" stroke-width="1.2"/>
<text x="190.9" y="679.6" font-size="13" text-anchor="middle" font-weight="bold">*</text>
<text x="223.9" y="656.2" font-size="13" text-anchor="middle" textLength="12" lengthAdjust="spacingAndGlyphs" font-weight="bold">**</text>
<text x="256.9" y="598.2" font-size="13" text-anchor="middle" font-weight="bold">*</text>
<text x="50.5" y="761.7" font-size="8.4" text-anchor="middle" textLength="42.52" lengthAdjust="spacingAndGlyphs" stroke="#000" stroke-width="0.25">PDCD4 -921</text>
<text x="90.18" y="761.7" font-size="8.4" text-anchor="middle" stroke="#000" stroke-width="0.25">-</text>
<text x="123.54" y="761.7" font-size="8.4" text-anchor="middle" stroke="#000" stroke-width="0.25">-</text>
<text x="156.9" y="761.7" font-size="8.4" text-anchor="middle" textLength="15.37" lengthAdjust="spacingAndGlyphs" stroke="#000" stroke-width="0.25">0.20</text>
<text x="190.26" y="761.7" font-size="8.4" text-anchor="middle" textLength="15.37" lengthAdjust="spacingAndGlyphs" stroke="#000" stroke-width="0.25">0.20</text>
<text x="223.62" y="761.7" font-size="8.4" text-anchor="middle" textLength="15.37" lengthAdjust="spacingAndGlyphs" stroke="#000" stroke-width="0.25">0.20</text>
<text x="256.98" y="761.7" font-size="8.4" text-anchor="middle" textLength="15.37" lengthAdjust="spacingAndGlyphs" stroke="#000" stroke-width="0.25">0.20</text>
<text x="290.34" y="761.7" font-size="8.4" text-anchor="middle" stroke="#000" stroke-width="0.25">-</text>
<text x="323.7" y="761.7" font-size="8.4" text-anchor="middle" stroke="#000" stroke-width="0.25">-</text>
<text x="357.06" y="761.7" font-size="8.4" text-anchor="middle" stroke="#000" stroke-width="0.25">-</text>
<text x="390.42" y="761.7" font-size="8.4" text-anchor="middle" stroke="#000" stroke-width="0.25">-</text>
<text x="50.5" y="771.6" font-size="8.4" text-anchor="middle" textLength="42.52" lengthAdjust="spacingAndGlyphs" stroke="#000" stroke-width="0.25">PDCD4 -601</text>
<text x="90.18" y="771.6" font-size="8.4" text-anchor="middle" stroke="#000" stroke-width="0.25">-</text>
<text x="123.54" y="771.6" font-size="8.4" text-anchor="middle" stroke="#000" stroke-width="0.25">-</text>
<text x="156.9" y="771.6" font-size="8.4" text-anchor="middle" stroke="#000" stroke-width="0.25">-</text>
<text x="190.26" y="771.6" font-size="8.4" text-anchor="middle" stroke="#000" stroke-width="0.25">-</text>
<text x="223.62" y="771.6" font-size="8.4" text-anchor="middle" stroke="#000" stroke-width="0.25">-</text>
<text x="256.98" y="771.6" font-size="8.4" text-anchor="middle" stroke="#000" stroke-width="0.25">-</text>
<text x="290.34" y="771.6" font-size="8.4" text-anchor="middle" textLength="15.37" lengthAdjust="spacingAndGlyphs" stroke="#000" stroke-width="0.25">0.20</text>
<text x="323.7" y="771.6" font-size="8.4" text-anchor="middle" textLength="15.37" lengthAdjust="spacingAndGlyphs" stroke="#000" stroke-width="0.25">0.20</text>
<text x="357.06" y="771.6" font-size="8.4" text-anchor="middle" textLength="15.37" lengthAdjust="spacingAndGlyphs" stroke="#000" stroke-width="0.25">0.20</text>
<text x="390.42" y="771.6" font-size="8.4" text-anchor="middle" textLength="15.37" lengthAdjust="spacingAndGlyphs" stroke="#000" stroke-width="0.25">0.20</text>
<text x="50.5" y="781.5" font-size="8.4" text-anchor="middle" textLength="22.5" lengthAdjust="spacingAndGlyphs" stroke="#000" stroke-width="0.25">c-MYB</text>
<text x="90.18" y="781.5" font-size="8.4" text-anchor="middle" stroke="#000" stroke-width="0.25">-</text>
<text x="123.54" y="781.5" font-size="8.4" text-anchor="middle" textLength="15.37" lengthAdjust="spacingAndGlyphs" stroke="#000" stroke-width="0.25">0.10</text>
<text x="156.9" y="781.5" font-size="8.4" text-anchor="middle" stroke="#000" stroke-width="0.25">-</text>
<text x="190.26" y="781.5" font-size="8.4" text-anchor="middle" textLength="15.37" lengthAdjust="spacingAndGlyphs" stroke="#000" stroke-width="0.25">0.10</text>
<text x="223.62" y="781.5" font-size="8.4" text-anchor="middle" textLength="15.37" lengthAdjust="spacingAndGlyphs" stroke="#000" stroke-width="0.25">0.20</text>
<text x="256.98" y="781.5" font-size="8.4" text-anchor="middle" textLength="15.37" lengthAdjust="spacingAndGlyphs" stroke="#000" stroke-width="0.25">0.40</text>
<text x="290.34" y="781.5" font-size="8.4" text-anchor="middle" stroke="#000" stroke-width="0.25">-</text>
<text x="323.7" y="781.5" font-size="8.4" text-anchor="middle" textLength="15.37" lengthAdjust="spacingAndGlyphs" stroke="#000" stroke-width="0.25">0.10</text>
<text x="357.06" y="781.5" font-size="8.4" text-anchor="middle" textLength="15.37" lengthAdjust="spacingAndGlyphs" stroke="#000" stroke-width="0.25">0.20</text>
<text x="390.42" y="781.5" font-size="8.4" text-anchor="middle" textLength="15.37" lengthAdjust="spacingAndGlyphs" stroke="#000" stroke-width="0.25">0.40</text>
<text x="50.5" y="791.3" font-size="8.4" text-anchor="middle" textLength="27.51" lengthAdjust="spacingAndGlyphs" stroke="#000" stroke-width="0.25">SIGNAL</text>
<text x="90.18" y="791.3" font-size="8.4" text-anchor="middle" textLength="15.37" lengthAdjust="spacingAndGlyphs" stroke="#000" stroke-width="0.25">1.00</text>
<text x="123.54" y="791.3" font-size="8.4" text-anchor="middle" textLength="26.3" lengthAdjust="spacingAndGlyphs" stroke="#000" stroke-width="0.25">1.1±0.2</text>
<text x="156.9" y="791.3" font-size="8.4" text-anchor="middle" textLength="26.3" lengthAdjust="spacingAndGlyphs" stroke="#000" stroke-width="0.25">274±49</text>
<text x="190.26" y="791.3" font-size="8.4" text-anchor="middle" textLength="26.3" lengthAdjust="spacingAndGlyphs" stroke="#000" stroke-width="0.25">458±94</text>
<text x="223.62" y="791.3" font-size="8.4" text-anchor="middle" textLength="26.3" lengthAdjust="spacingAndGlyphs" stroke="#000" stroke-width="0.25">689±32</text>
<text x="256.98" y="791.3" font-size="8.4" text-anchor="middle" textLength="35.09" lengthAdjust="spacingAndGlyphs" stroke="#000" stroke-width="0.25">1040±198</text>
<text x="290.34" y="791.3" font-size="8.4" text-anchor="middle" textLength="26.3" lengthAdjust="spacingAndGlyphs" stroke="#000" stroke-width="0.25">239±29</text>
<text x="323.7" y="791.3" font-size="8.4" text-anchor="middle" textLength="26.3" lengthAdjust="spacingAndGlyphs" stroke="#000" stroke-width="0.25">240±40</text>
<text x="357.06" y="791.3" font-size="8.4" text-anchor="middle" textLength="26.3" lengthAdjust="spacingAndGlyphs" stroke="#000" stroke-width="0.25">279±17</text>
<text x="390.42" y="791.3" font-size="8.4" text-anchor="middle" textLength="26.3" lengthAdjust="spacingAndGlyphs" stroke="#000" stroke-width="0.25">309±53</text>
</svg>
</body></html>
